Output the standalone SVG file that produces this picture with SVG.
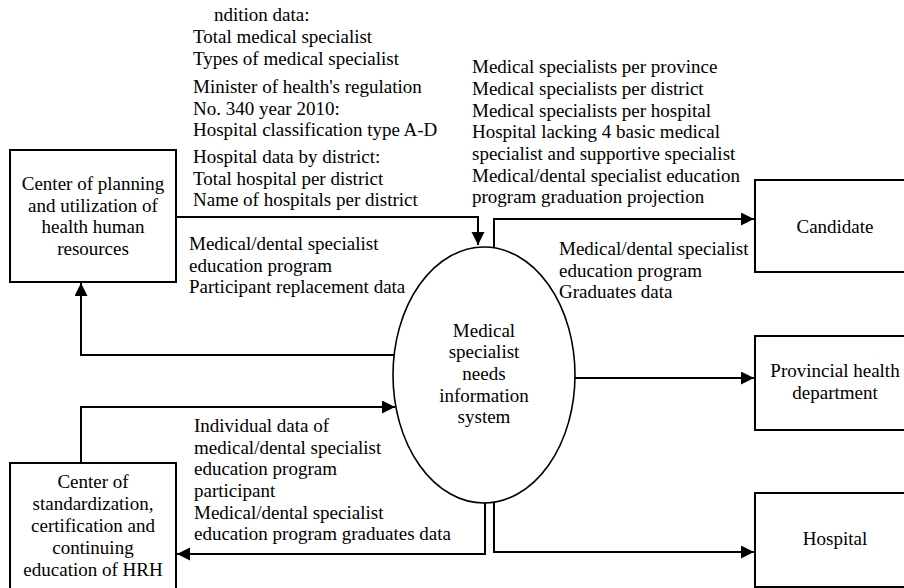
<svg xmlns="http://www.w3.org/2000/svg" width="904" height="588" viewBox="0 0 904 588">
<style>
.c { text-anchor: middle; }
.box { fill: #fff; stroke: #000; stroke-width: 2; }
.conn { fill: none; stroke: #000; stroke-width: 2; }
</style>
<defs>
<marker id="arr" markerUnits="userSpaceOnUse" markerWidth="14" markerHeight="14" refX="13" refY="6.5" orient="auto">
<path d="M0,0 L13,6.5 L0,13 Z" fill="#000"/>
</marker>
</defs>
<rect width="904" height="588" fill="#fff"/>
<g id="connectors">
<path class="conn" d="M176,217 H478 V245" marker-end="url(#arr)"/>
<path class="conn" d="M494,248 V219 H754" marker-end="url(#arr)"/>
<path class="conn" d="M575,378 H754" marker-end="url(#arr)"/>
<path class="conn" d="M494,502 V552 H754" marker-end="url(#arr)"/>
<path class="conn" d="M485,503 V554 H177" marker-end="url(#arr)"/>
<path class="conn" d="M81,463 V407 H395" marker-end="url(#arr)"/>
<path class="conn" d="M394,355 H81 V283" marker-end="url(#arr)"/>
</g>
<g id="labels" font-family="Liberation Serif" font-size="19">
<text x="214" y="21">ndition data:</text>
<text x="193" y="43">Total medical specialist</text>
<text x="193" y="65">Types of medical specialist</text>
<text x="193" y="93">Minister of health's regulation</text>
<text x="193" y="115">No. 340 year 2010:</text>
<text x="193" y="136">Hospital classification type A-D</text>
<text x="193" y="163">Hospital data by district:</text>
<text x="193" y="185">Total hospital per district</text>
<text x="193" y="206">Name of hospitals per district</text>
<text x="189" y="250">Medical/dental specialist</text>
<text x="189" y="272">education program</text>
<text x="189" y="293">Participant replacement data</text>
<text x="472" y="73">Medical specialists per province</text>
<text x="472" y="95">Medical specialists per district</text>
<text x="472" y="117">Medical specialists per hospital</text>
<text x="472" y="138">Hospital lacking 4 basic medical</text>
<text x="472" y="160">specialist and supportive specialist</text>
<text x="472" y="182">Medical/dental specialist education</text>
<text x="472" y="203">program graduation projection</text>
<text x="559" y="255">Medical/dental specialist</text>
<text x="559" y="277">education program</text>
<text x="559" y="298">Graduates data</text>
<text x="194" y="432">Individual data of</text>
<text x="194" y="454">medical/dental specialist</text>
<text x="194" y="475">education program</text>
<text x="194" y="497">participant</text>
<text x="194" y="519">Medical/dental specialist</text>
<text x="194" y="540">education program graduates data</text>
</g>
<g id="planning" font-family="Liberation Serif" font-size="19">
<rect class="box" x="10" y="150" width="166" height="132"/>
<text class="c" x="93" y="190">Center of planning</text>
<text class="c" x="93" y="212">and utilization of</text>
<text class="c" x="93" y="233">health human</text>
<text class="c" x="93" y="255">resources</text>
</g>
<g id="standardization" font-family="Liberation Serif" font-size="19">
<rect class="box" x="10" y="463" width="166" height="140"/>
<text class="c" x="93" y="488">Center of</text>
<text class="c" x="93" y="510">standardization,</text>
<text class="c" x="93" y="532">certification and</text>
<text class="c" x="93" y="554">continuing</text>
<text class="c" x="93" y="576">education of HRH</text>
</g>
<g id="system" font-family="Liberation Serif" font-size="19">
<ellipse cx="484" cy="375" rx="91" ry="128" fill="#fff" stroke="#000" stroke-width="1.6"/>
<text class="c" x="484" y="337">Medical</text>
<text class="c" x="484" y="358">specialist</text>
<text class="c" x="484" y="380">needs</text>
<text class="c" x="484" y="402">information</text>
<text class="c" x="484" y="423">system</text>
</g>
<g id="candidate" font-family="Liberation Serif" font-size="19">
<rect class="box" x="755" y="180" width="160" height="92"/>
<text class="c" x="835" y="233">Candidate</text>
</g>
<g id="provincial" font-family="Liberation Serif" font-size="19">
<rect class="box" x="755" y="336" width="160" height="94"/>
<text class="c" x="835" y="377">Provincial health</text>
<text class="c" x="835" y="399">department</text>
</g>
<g id="hospital" font-family="Liberation Serif" font-size="19">
<rect class="box" x="755" y="493" width="160" height="94"/>
<text class="c" x="835" y="545">Hospital</text>
</g>
</svg>
